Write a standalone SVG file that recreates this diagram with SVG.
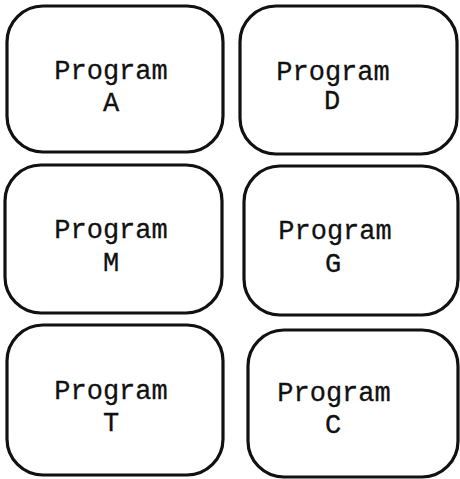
<svg xmlns="http://www.w3.org/2000/svg" width="460" height="479" viewBox="0 0 460 479">
<style>
.box{fill:#fff;stroke:#111;stroke-width:3.2}
.t{font-family:"Liberation Mono","DejaVu Sans Mono",monospace;font-size:27px;fill:#111;stroke:#111;stroke-width:0.3;text-anchor:middle}
</style>
<rect width="460" height="479" fill="#fff"/>
<g id="programA"><rect class="box" x="7" y="6" width="216" height="146" rx="36" ry="36"/><text class="t" x="111" y="79">Program</text><text class="t" x="111" y="111">A</text></g>
<g id="programD"><rect class="box" x="240" y="6" width="217" height="148" rx="36" ry="36"/><text class="t" x="333" y="80">Program</text><text class="t" x="332" y="109">D</text></g>
<g id="programM"><rect class="box" x="5" y="165" width="217" height="148" rx="36" ry="36"/><text class="t" x="111" y="238">Program</text><text class="t" x="111" y="271">M</text></g>
<g id="programG"><rect class="box" x="244" y="166" width="214" height="149" rx="36" ry="36"/><text class="t" x="335" y="239">Program</text><text class="t" x="333" y="272">G</text></g>
<g id="programT"><rect class="box" x="7" y="325" width="216" height="150" rx="36" ry="36"/><text class="t" x="111" y="399">Program</text><text class="t" x="111" y="431">T</text></g>
<g id="programC"><rect class="box" x="248" y="330" width="210" height="147" rx="36" ry="36"/><text class="t" x="334" y="401">Program</text><text class="t" x="333" y="433">C</text></g>
<g id="connectors"></g>
</svg>
